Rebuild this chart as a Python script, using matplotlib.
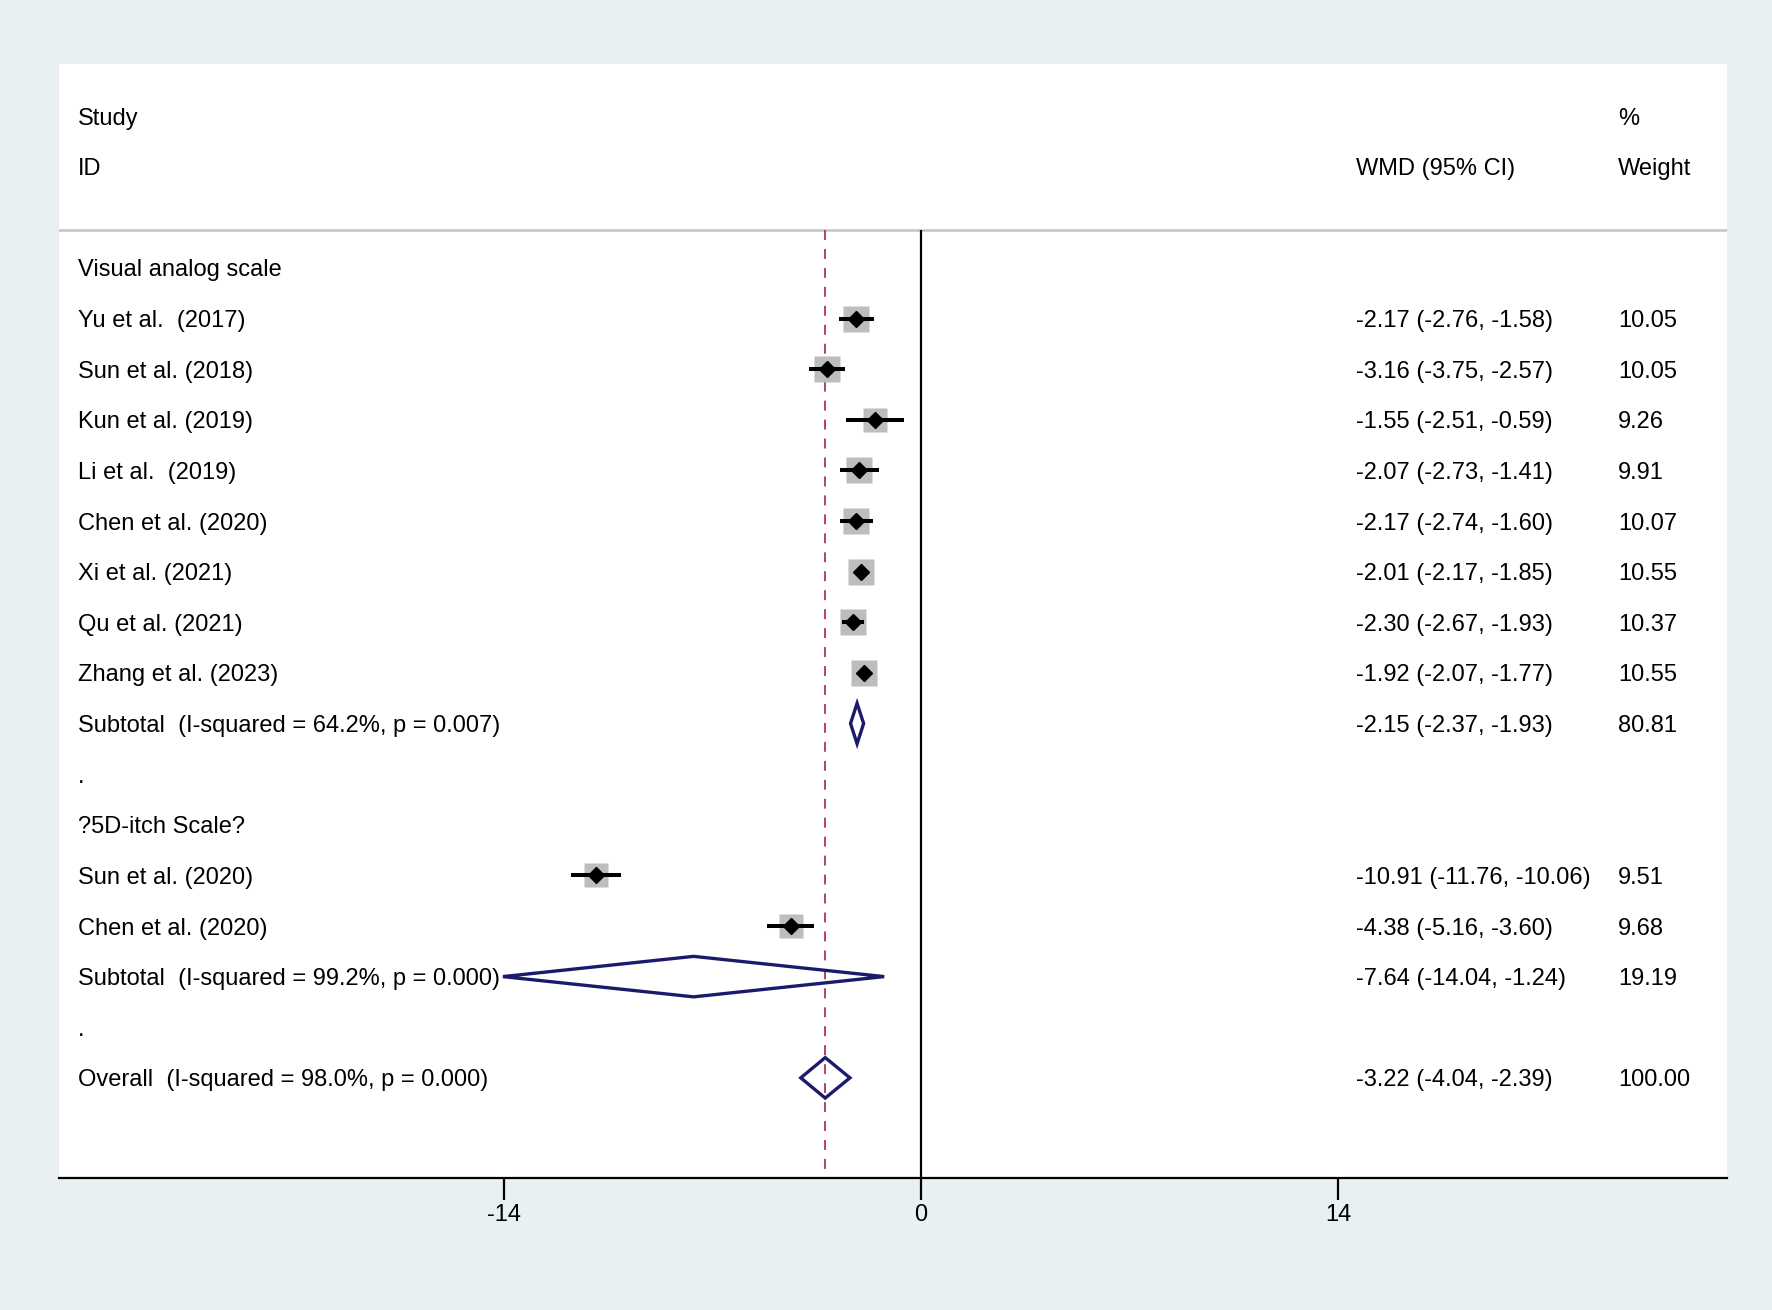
import numpy as np
import matplotlib.pyplot as plt
from matplotlib.patches import Polygon

plt.rcParams['font.family'] = ['Liberation Sans', 'DejaVu Sans']
plt.rcParams['axes.unicode_minus'] = False

# rows of the forest plot, top to bottom
row_labels = [
    "Visual analog scale",
    "Yu et al.  (2017)",
    "Sun et al. (2018)",
    "Kun et al. (2019)",
    "Li et al.  (2019)",
    "Chen et al. (2020)",
    "Xi et al. (2021)",
    "Qu et al. (2021)",
    "Zhang et al. (2023)",
    "Subtotal  (I-squared = 64.2%, p = 0.007)",
    ".",
    "?5D-itch Scale?",
    "Sun et al. (2020)",
    "Chen et al. (2020)",
    "Subtotal  (I-squared = 99.2%, p = 0.000)",
    ".",
    "Overall  (I-squared = 98.0%, p = 0.000)",
]
row_type = ["head", "study", "study", "study", "study", "study", "study", "study", "study",
            "pool", "blank", "head", "study", "study", "pool", "blank", "pool"]

nan = np.nan
wmd = [nan, -2.17, -3.16, -1.55, -2.07, -2.17, -2.01, -2.30, -1.92, -2.15,
       nan, nan, -10.91, -4.38, -7.64, nan, -3.22]
ci_low = [nan, -2.76, -3.75, -2.51, -2.73, -2.74, -2.17, -2.67, -2.07, -2.37,
          nan, nan, -11.76, -5.16, -14.04, nan, -4.04]
ci_high = [nan, -1.58, -2.57, -0.59, -1.41, -1.60, -1.85, -1.93, -1.77, -1.93,
           nan, nan, -10.06, -3.60, -1.24, nan, -2.39]
weight = [nan, 10.05, 10.05, 9.26, 9.91, 10.07, 10.55, 10.37, 10.55, 80.81,
          nan, nan, 9.51, 9.68, 19.19, nan, 100.00]

overall = -3.22
ticks = [-14, 0, 14]

# layout settings
fs = 17
x_text = -28.3
x_ci = 14.6
x_wt = 23.4
y_sep = -0.74
y_bottom = 17.97
dy = 0.05  # text sits a touch below the row centre

fig = plt.figure(figsize=(17.72, 13.10), dpi=100, facecolor='#e9f0f2')
ax = fig.add_axes([0.0332, 0.1011, 0.9413, 0.8497])
ax.set_facecolor('white')
ax.set_xlim(-28.95, 27.05)
ax.set_ylim(y_bottom, -4.02)

# header
ax.text(x_text, -3 + dy, "Study", fontsize=fs, va='center')
ax.text(x_text, -2 + dy, "ID", fontsize=fs, va='center')
ax.text(x_ci, -2 + dy, "WMD (95% CI)", fontsize=fs, va='center')
ax.text(x_wt, -3 + dy, "%", fontsize=fs, va='center')
ax.text(x_wt, -2 + dy, "Weight", fontsize=fs, va='center')
ax.axhline(y_sep, color='#c4c4c4', lw=1.8, zorder=1)

# reference lines
ax.vlines(0, y_sep, y_bottom, color='black', lw=1.6, zorder=2)
ax.vlines(overall, y_sep, y_bottom, color='#b0354f', lw=1.3,
          linestyles=(0, (5.5, 5)), zorder=2)

navy = '#1b1b6b'
for i, lab in enumerate(row_labels):
    ax.text(x_text, i + dy, lab, fontsize=fs, va='center')
    if row_type[i] in ("head", "blank"):
        continue
    ax.text(x_ci, i + dy, "%.2f (%.2f, %.2f)" % (wmd[i], ci_low[i], ci_high[i]),
            fontsize=fs, va='center')
    ax.text(x_wt, i + dy, "%.2f" % weight[i], fontsize=fs, va='center')
    if row_type[i] == "study":
        ax.plot(wmd[i], i, marker='s', ms=18.3 * np.sqrt(weight[i] / 10.05),
                color='#bdbdbd', mec='none', zorder=3)
        ax.plot([ci_low[i], ci_high[i]], [i, i], color='black', lw=2.9,
                solid_capstyle='butt', zorder=4)
        ax.plot(wmd[i], i, marker='D', ms=8, color='black', zorder=5)
    else:
        h = 0.4
        dia = Polygon([[ci_low[i], i], [wmd[i], i - h], [ci_high[i], i], [wmd[i], i + h]],
                      closed=True, facecolor='none', edgecolor=navy, lw=2.4, zorder=4)
        ax.add_patch(dia)

# axis
for s in ['top', 'left', 'right']:
    ax.spines[s].set_visible(False)
ax.spines['bottom'].set_linewidth(1.6)
ax.set_yticks([])
ax.set_xticks(ticks)
ax.set_xticklabels([str(t) for t in ticks], fontsize=fs)
ax.tick_params(axis='x', length=16, width=1.6, pad=3)

fig.savefig('out.png', dpi=100, facecolor=fig.get_facecolor())
